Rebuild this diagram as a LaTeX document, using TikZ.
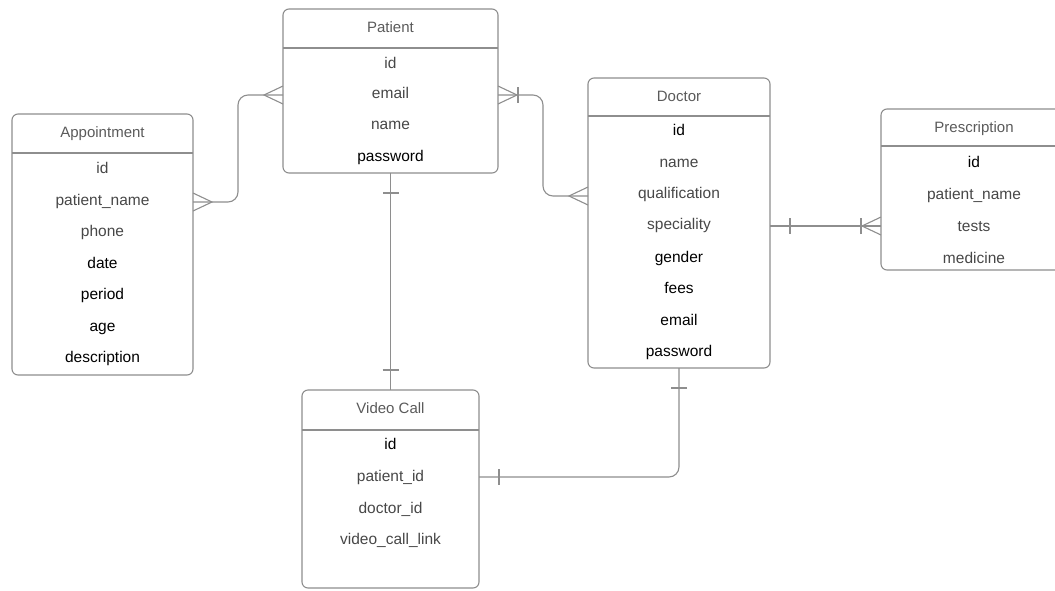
\documentclass[tikz,border=0pt]{standalone}
\usepackage{fontspec}
\setmainfont{Liberation Sans}
\usetikzlibrary{calc}
\definecolor{edgegray}{HTML}{8E8E8E}
\definecolor{titlegray}{HTML}{5A5A5A}
\definecolor{fieldgray}{HTML}{474747}
\begin{document}
\begin{tikzpicture}[x=1pt,y=-1pt,
 box/.style={draw=edgegray, line width=1.1pt, rounded corners=6pt, anchor=north west, inner sep=0pt, outer sep=0pt},
 hdr/.style={draw=edgegray, line width=1.1pt},
 ttl/.style={font=\fontsize{15}{18}\selectfont, text=titlegray, anchor=mid, inner sep=0pt, yshift=-3pt},
 fld/.style={font=\fontsize{15.5}{18}\selectfont, text=fieldgray, anchor=mid, inner sep=0pt, yshift=-3pt},
 dark/.style={fld, text=black},
 rel/.style={draw=edgegray, line width=1.1pt},
 crowfoot/.pic={\draw[rel] (0,-9) -- (19,0) -- (0,9);},
 onebar/.pic={\draw[rel] (20,-8) -- (20,8);},
]
\useasboundingbox (0,0) rectangle (1055,590);

% Patient
\node[box, minimum width=215pt, minimum height=164pt] (pat) at (283,9) {};
\draw[hdr] (pat.west |- 0,48) -- (pat.east |- 0,48);
\node[ttl] (patT) at (390.5,27) {Patient};
\node[fld] (pat1) at (390.5,63) {id};
\node[fld] (pat2) at (390.5,93) {email};
\node[fld] (pat3) at (390.5,124) {name};
\node[dark] (pat4) at (390.5,156) {password};

% Appointment
\node[box, minimum width=181pt, minimum height=261pt] (appt) at (12,114) {};
\draw[hdr] (appt.west |- 0,153) -- (appt.east |- 0,153);
\node[ttl] (apptT) at (102.5,132) {Appointment};
\node[fld] (appt1) at (102.5,168) {id};
\node[fld] (appt2) at (102.5,200) {patient\_name};
\node[fld] (appt3) at (102.5,231) {phone};
\node[dark] (appt4) at (102.5,263) {date};
\node[dark] (appt5) at (102.5,294) {period};
\node[dark] (appt6) at (102.5,326) {age};
\node[dark] (appt7) at (102.5,357) {description};

% Doctor
\node[box, minimum width=182pt, minimum height=290pt] (doc) at (588,78) {};
\draw[hdr] (doc.west |- 0,116) -- (doc.east |- 0,116);
\node[ttl] (docT) at (679,96) {Doctor};
\node[dark] (doc1) at (679,130) {id};
\node[fld] (doc2) at (679,162) {name};
\node[fld] (doc3) at (679,193) {qualification};
\node[fld] (doc4) at (679,224) {speciality};
\node[dark] (doc5) at (679,257) {gender};
\node[dark] (doc6) at (679,288) {fees};
\node[dark] (doc7) at (679,320) {email};
\node[dark] (doc8) at (679,351) {password};

% Prescription
\node[box, minimum width=186pt, minimum height=161pt] (presc) at (881,109) {};
\draw[hdr] (presc.west |- 0,146) -- (presc.east |- 0,146);
\node[ttl] (prescT) at (974,127) {Prescription};
\node[dark] (presc1) at (974,162) {id};
\node[fld] (presc2) at (974,194) {patient\_name};
\node[fld] (presc3) at (974,226) {tests};
\node[fld] (presc4) at (974,258) {medicine};

% Video Call
\node[box, minimum width=177pt, minimum height=198pt] (vid) at (302,390) {};
\draw[hdr] (vid.west |- 0,430) -- (vid.east |- 0,430);
\node[ttl] (vidT) at (390.5,408) {Video Call};
\node[dark] (vid1) at (390.5,444) {id};
\node[fld] (vid2) at (390.5,476) {patient\_id};
\node[fld] (vid3) at (390.5,508) {doctor\_id};
\node[fld] (vid4) at (390.5,539) {video\_call\_link};

% Appointment -- Patient (many to many)
\coordinate (c1s) at (appt.east |- 0,202);
\coordinate (c1e) at (pat.west |- 0,95);
\draw[rel, rounded corners=10pt] (c1s) -| ($(c1s)!0.5!(c1e)$) |- (c1e);
\pic at (c1s) {crowfoot};
\pic[rotate=180] at (c1e) {crowfoot};

% Patient -- Doctor
\coordinate (c2s) at (pat.east |- 0,95);
\coordinate (c2e) at (doc.west |- 0,196);
\draw[rel, rounded corners=10pt] (c2s) -| ($(c2s)!0.5!(c2e)$) |- (c2e);
\pic at (c2s) {crowfoot};
\pic at (c2s) {onebar};
\pic[rotate=180] at (c2e) {crowfoot};

% Patient -- Video Call
\draw[rel] (pat.south) -- (pat.south |- vid.north);
\pic[rotate=-90] at (pat.south) {onebar};
\pic[rotate=90] at (vid.north) {onebar};

% Doctor -- Prescription
\coordinate (c4s) at (doc.east |- 0,226);
\coordinate (c4e) at (presc.west |- 0,226);
\draw[rel] (c4s) -- (c4e);
\pic at (c4s) {onebar};
\pic[rotate=180] at (c4e) {crowfoot};
\pic[rotate=180] at (c4e) {onebar};

% Video Call -- Doctor
\coordinate (c5s) at (vid.east |- 0,477);
\draw[rel, rounded corners=10pt] (c5s) -| (doc.south);
\pic at (c5s) {onebar};
\pic[rotate=-90] at (doc.south) {onebar};
\end{tikzpicture}
\end{document}
